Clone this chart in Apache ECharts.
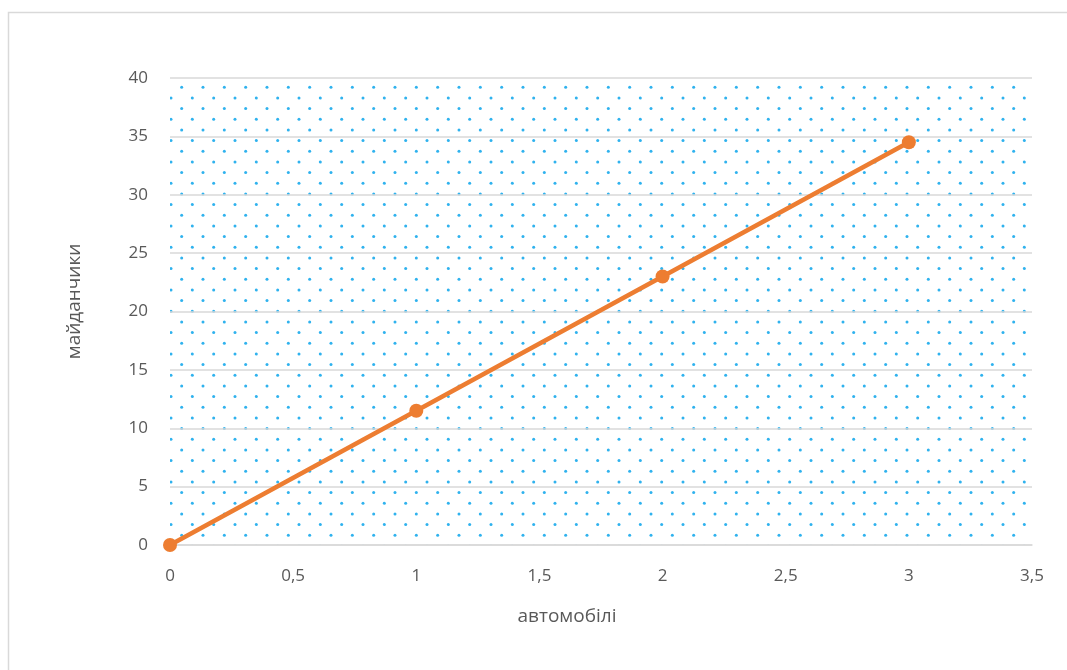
<!DOCTYPE html>
<html>
<head>
<meta charset="utf-8">
<script src="https://cdn.jsdelivr.net/npm/echarts@6/dist/echarts.min.js"></script>
<style>html,body{margin:0;padding:0;background:#fff;}#c{width:1067px;height:670px;}</style>
</head>
<body>
<div id="c"></div>
<script>
const xValues = [0, 1, 2, 3];
const yValues = [0, 11.5, 23, 34.5];
const xTicks = ['0', '0,5', '1', '1,5', '2', '2,5', '3', '3,5'];
const yTicks = ['0', '5', '10', '15', '20', '25', '30', '35', '40'];
const xTitle = 'автомобілі';
const yTitle = 'майданчики';

// dotted pattern tile
const tile = document.createElement('canvas');
tile.width = 64; tile.height = 64;
const tctx = tile.getContext('2d');
tctx.fillStyle = '#2fb2ee';
const step = 64 / 3;
for (let r = -1; r < 4; r++) {
  for (let c = -1; c < 4; c++) {
    const pts = [[0.33 + c * step, 12.6 + r * step], [10.99 + c * step, 23.27 + r * step]];
    pts.forEach(p => {
      tctx.beginPath();
      tctx.arc(p[0], p[1], 1.5, 0, Math.PI * 2);
      tctx.fill();
    });
  }
}

const chart = echarts.init(document.getElementById('c'), null, {renderer: 'canvas'});
const fontFamily = '"Open Sans", "Liberation Sans", sans-serif';
const gLeft = 170, gRight = 35, gTop = 78, gBottom = 125;
chart.setOption({
  animation: false,
  backgroundColor: '#ffffff',
  grid: {left: gLeft, right: gRight, top: gTop, bottom: gBottom},
  graphic: [
    {type: 'rect', z: -20, silent: true,
      shape: {x: 8.5, y: 12.5, width: 1100, height: 700},
      style: {fill: 'none', stroke: '#d9d9d9', lineWidth: 1.5}},
    {type: 'rect', z: -10, silent: true,
      shape: {x: gLeft, y: gTop, width: 1067 - gLeft - gRight, height: 670 - gTop - gBottom},
      style: {fill: {image: tile, repeat: 'repeat'}}}
  ],
  xAxis: {
    type: 'value', min: 0, max: 3.5, interval: 0.5,
    name: xTitle, nameLocation: 'middle', nameGap: 62,
    nameTextStyle: {fontFamily: fontFamily, fontSize: 19, color: '#595959', padding: [0, 68, 0, 0]},
    axisLine: {show: true, lineStyle: {color: '#d9d9d9', width: 1.5}},
    axisTick: {show: false},
    splitLine: {show: false},
    axisLabel: {
      fontFamily: fontFamily, fontSize: 17, color: '#595959', margin: 23,
      formatter: v => xTicks[Math.round(v / 0.5)]
    }
  },
  yAxis: {
    type: 'value', min: 0, max: 40, interval: 5,
    name: yTitle, nameLocation: 'middle', nameGap: 86, nameRotate: 90,
    nameTextStyle: {fontFamily: fontFamily, fontSize: 19, color: '#595959', padding: [0, 0, 0, 20]},
    axisLine: {show: false},
    axisTick: {show: false},
    splitLine: {show: true, lineStyle: {color: '#d9d9d9', width: 1.5}},
    axisLabel: {
      fontFamily: fontFamily, fontSize: 17, color: '#595959', margin: 22,
      formatter: v => yTicks[Math.round(v / 5)]
    }
  },
  series: [{
    type: 'line',
    data: xValues.map((x, i) => [x, yValues[i]]),
    symbol: 'circle', symbolSize: 14,
    lineStyle: {color: '#ed7d31', width: 4.5},
    itemStyle: {color: '#ed7d31'},
    z: 5
  }]
});
</script>
</body>
</html>
